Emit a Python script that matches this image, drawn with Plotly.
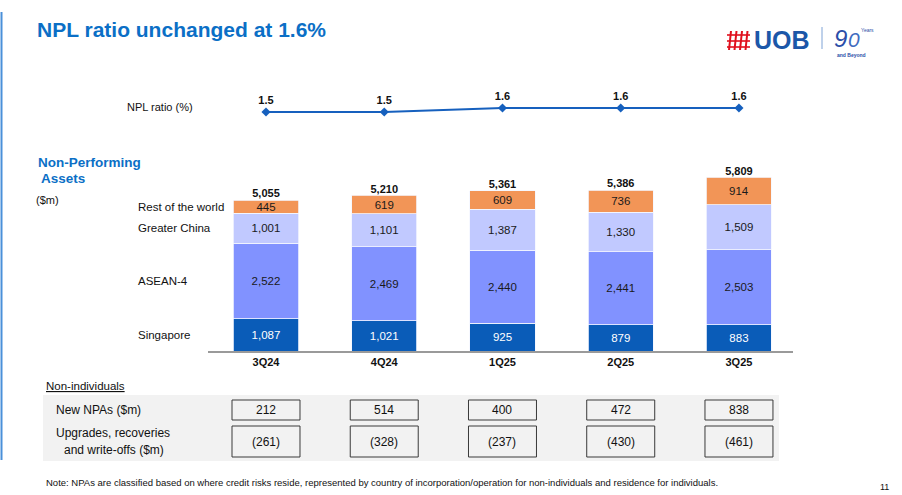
import plotly.graph_objects as go

W, H = 902, 495
FONT = "Liberation Sans, Arial, sans-serif"

quarters = ["3Q24", "4Q24", "1Q25", "2Q25", "3Q25"]
singapore = [1087, 1021, 925, 879, 883]
asean4 = [2522, 2469, 2440, 2441, 2503]
greater_china = [1001, 1101, 1387, 1330, 1509]
rest_of_world = [445, 619, 609, 736, 914]
totals = [5055, 5210, 5361, 5386, 5809]
npl_ratio = [1.5, 1.5, 1.6, 1.6, 1.6]
new_npas = ["212", "514", "400", "472", "838"]
upgrades = ["(261)", "(328)", "(237)", "(430)", "(461)"]

series = [
    ("Singapore", singapore, "#0A5CB8", "white"),
    ("ASEAN-4", asean4, "#8192FF", "#1a1a1a"),
    ("Greater China", greater_china, "#C1C9FF", "#1a1a1a"),
    ("Rest of the world", rest_of_world, "#F29557", "#1a1a1a"),
]

def px(x):
    return x / W

def py(y):
    return 1 - y / H

xs = list(range(len(quarters)))
fig = go.Figure()

for name, vals, col, tcol in series:
    fig.add_trace(go.Bar(
        x=xs, y=vals, name=name, marker=dict(color=col, line=dict(color="#F4F6FF", width=0.8)),
        width=0.55, text=vals, texttemplate="%{y:,}", textposition="inside",
        insidetextanchor="middle", textangle=0,
        textfont=dict(family=FONT, size=11.5, color=tcol),
        xaxis="x", yaxis="y", showlegend=False))

fig.add_trace(go.Scatter(
    x=xs, y=totals, mode="text", text=[f"{t:,}" for t in totals],
    textposition="top center", texttemplate="<b>%{text}</b>",
    textfont=dict(family=FONT, size=11, color="#111"),
    xaxis="x", yaxis="y", showlegend=False, cliponaxis=False))

fig.add_trace(go.Scatter(
    x=xs, y=npl_ratio, mode="lines+markers+text",
    text=[f"{v:.1f}" for v in npl_ratio], texttemplate="<b>%{text}</b>",
    textposition="top center", textfont=dict(family=FONT, size=11, color="#111"),
    line=dict(color="#1660BE", width=2), marker=dict(symbol="diamond", size=7, color="#1660BE"),
    xaxis="x2", yaxis="y2", showlegend=False, cliponaxis=False))

xr = [-0.4905, 4.457]
fig.update_layout(
    width=W, height=H, autosize=False, margin=dict(l=0, r=0, t=0, b=0),
    paper_bgcolor="white", plot_bgcolor="rgba(0,0,0,0)", barmode="stack",
    uniformtext=dict(minsize=11.5, mode="show"),
    font=dict(family=FONT, color="#111"),
    xaxis=dict(domain=[px(208), px(793)], range=xr, tickvals=xs,
               ticktext=[f"<b>{q}</b>" for q in quarters], tickfont=dict(size=11, color="#111"),
               showline=True, linecolor="#9A9A9A", linewidth=1.5, showgrid=False,
               zeroline=False, ticks="", anchor="y", fixedrange=True),
    yaxis=dict(domain=[py(351), py(170)], range=[0, 181 / 0.02987], visible=False,
               anchor="x", fixedrange=True),
    xaxis2=dict(domain=[px(208), px(793)], range=xr, visible=False, anchor="y2",
                matches="x", fixedrange=True),
    yaxis2=dict(domain=[py(130), py(90)], range=[1.05, 2.05], visible=False,
                anchor="x2", fixedrange=True),
)

shapes = []
annots = []

# left accent line
shapes.append(dict(type="line", xref="paper", yref="paper", x0=px(1.5), x1=px(1.5),
                   y0=py(12), y1=py(460), line=dict(color="#4A90D9", width=2)))

# title
annots.append(dict(text="<b>NPL ratio unchanged at 1.6%</b>", x=px(35), y=py(30), xref="paper",
                   yref="paper", xanchor="left", yanchor="middle", showarrow=False,
                   font=dict(size=21, color="#0B6FC6", family=FONT)))

# logo
for i in range(4):
    xx = 730 + i * 5.5
    shapes.append(dict(type="line", xref="paper", yref="paper", x0=px(xx + 1), x1=px(xx - 1),
                       y0=py(31), y1=py(50), line=dict(color="#E0101E", width=2)))
for j in range(3):
    yy = 35 + j * 6
    shapes.append(dict(type="line", xref="paper", yref="paper", x0=px(727), x1=px(750),
                       y0=py(yy), y1=py(yy), line=dict(color="#E0101E", width=1.6)))
annots.append(dict(text="<b>UOB</b>", x=px(752), y=py(40), xref="paper", yref="paper",
                   xanchor="left", yanchor="middle", showarrow=False,
                   font=dict(size=25, color="#1C57A8", family=FONT)))
shapes.append(dict(type="line", xref="paper", yref="paper", x0=px(822), x1=px(822),
                   y0=py(27), y1=py(49), line=dict(color="#7FA3D6", width=1)))
annots.append(dict(text="<i>9</i>", x=px(832), y=py(38), xref="paper", yref="paper",
                   xanchor="left", yanchor="middle", showarrow=False,
                   font=dict(size=24, color="#2B4DA8", family=FONT)))
annots.append(dict(text="<i>0</i>", x=px(846), y=py(40), xref="paper", yref="paper",
                   xanchor="left", yanchor="middle", showarrow=False,
                   font=dict(size=21, color="#3F6CC0", family=FONT)))
annots.append(dict(text="Years", x=px(859), y=py(30), xref="paper", yref="paper",
                   xanchor="left", yanchor="middle", showarrow=False,
                   font=dict(size=5, color="#2B4DA8", family=FONT)))
annots.append(dict(text="<b>and Beyond</b>", x=px(835), y=py(55), xref="paper", yref="paper",
                   xanchor="left", yanchor="middle", showarrow=False,
                   font=dict(size=5, color="#2B4DA8", family=FONT)))

# left labels
annots.append(dict(text="NPL ratio (%)", x=px(125), y=py(107), xref="paper", yref="paper",
                   xanchor="left", yanchor="middle", showarrow=False, font=dict(size=11)))
annots.append(dict(text="<b>Non-Performing</b>", x=px(36), y=py(162), xref="paper", yref="paper",
                   xanchor="left", yanchor="middle", showarrow=False,
                   font=dict(size=13.5, color="#0B6FC6")))
annots.append(dict(text="<b>Assets</b>", x=px(39), y=py(178), xref="paper", yref="paper",
                   xanchor="left", yanchor="middle", showarrow=False,
                   font=dict(size=13.5, color="#0B6FC6")))
annots.append(dict(text="($m)", x=px(34), y=py(200), xref="paper", yref="paper",
                   xanchor="left", yanchor="middle", showarrow=False, font=dict(size=11)))

# series labels at first bar's segment midpoints
base = 0
for name, vals, col, tcol in series:
    mid = base + vals[0] / 2
    base += vals[0]
    annots.append(dict(text=name, x=px(136), y=mid, xref="paper", yref="y",
                       xanchor="left", yanchor="middle", showarrow=False, font=dict(size=11.5)))

# table
shapes.append(dict(type="rect", xref="paper", yref="paper", x0=px(43), x1=px(779),
                   y0=py(461), y1=py(395), fillcolor="#F2F2F2", line=dict(width=0), layer="below"))
annots.append(dict(text="<u>Non-individuals</u>", x=px(44), y=py(386), xref="paper", yref="paper",
                   xanchor="left", yanchor="middle", showarrow=False, font=dict(size=11.5)))
annots.append(dict(text="New NPAs ($m)", x=px(54), y=py(410), xref="paper", yref="paper",
                   xanchor="left", yanchor="middle", showarrow=False, font=dict(size=12)))
annots.append(dict(text="Upgrades, recoveries", x=px(54), y=py(433), xref="paper", yref="paper",
                   xanchor="left", yanchor="middle", showarrow=False, font=dict(size=12)))
annots.append(dict(text="and write-offs ($m)", x=px(62), y=py(450), xref="paper", yref="paper",
                   xanchor="left", yanchor="middle", showarrow=False, font=dict(size=12)))

hw = 0.2875
for i in xs:
    for (y0, y1, txt) in [(400, 420, new_npas[i]), (426, 457, upgrades[i])]:
        shapes.append(dict(type="rect", xref="x", yref="paper", x0=i - hw, x1=i + hw,
                           y0=py(y1), y1=py(y0), fillcolor="#F2F2F2",
                           line=dict(color="#3A3A3A", width=1)))
        annots.append(dict(text=txt, x=i, y=py((y0 + y1) / 2), xref="x", yref="paper",
                           xanchor="center", yanchor="middle", showarrow=False,
                           font=dict(size=12)))

annots.append(dict(text="Note: NPAs are classified based on where credit risks reside, represented by country of incorporation/operation for non-individuals and residence for individuals.",
                   x=px(44), y=py(482), xref="paper", yref="paper", xanchor="left", yanchor="middle",
                   showarrow=False, font=dict(size=9.5)))
annots.append(dict(text="11", x=px(891), y=py(487), xref="paper", yref="paper", xanchor="right",
                   yanchor="middle", showarrow=False, font=dict(size=9)))

fig.update_layout(shapes=shapes, annotations=annots)
fig.write_html("out.html", config={"displayModeBar": False},
               post_script="document.body.style.margin='0';document.body.style.overflow='hidden';")
